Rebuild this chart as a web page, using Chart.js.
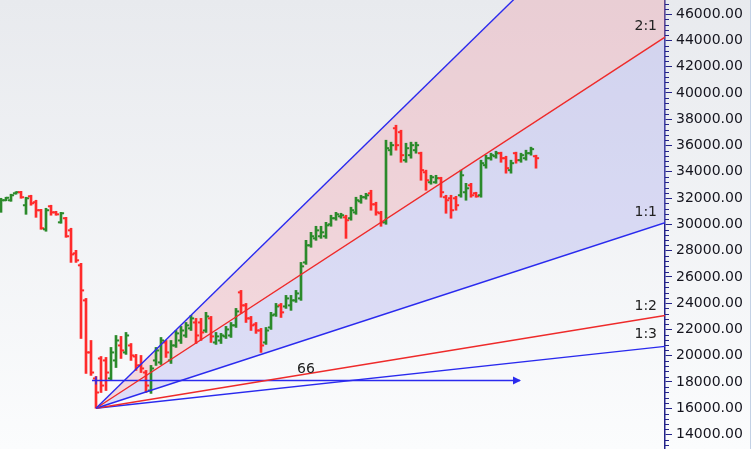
<!DOCTYPE html>
<html><head><meta charset="utf-8">
<script src="https://cdn.jsdelivr.net/npm/chart.js@4.4.1/dist/chart.umd.min.js"></script>
<style>html,body{margin:0;padding:0;background:#fff;overflow:hidden}canvas{display:block}</style>
</head><body>
<canvas id="c" width="754" height="449"></canvas>
<script>
// ---- data ----
const opens = [31070,31830,31830,32360,32440,31450,32130,31680,31070,29620,
  31370,30910,30150,30460,29540,27790,26880,24210,20250,18270,
  19790,19640,18270,19640,20780,20250,20780,19940,19260,18720,
  17350,19640,19490,21010,19640,20780,21160,21540,22080,22530,
  22530,21920,22840,21010,21160,21470,21540,22310,24820,23830,
  22840,22380,21920,21010,22150,23140,23830,23750,23830,24210,
  24360,27100,28400,28930,29090,29090,30000,30460,30610,30530,
  30460,30910,31750,32060,32360,31520,30840,30150,35640,37310,
  37010,34880,35260,35640,35410,33960,33200,33200,33510,32060,
  31980,31980,32210,32440,32970,32360,32210,34500,35030,35180,
  35410,35030,34120,35410,34880,35030,35410,35180];
const highs = [31980,32060,32290,32480,32510,32060,32210,31830,31140,31220,
  31450,30990,30910,30530,29700,28020,27030,24360,21160,18420,
  19940,19870,20630,21540,21470,21770,20930,20100,20020,18880,
  19260,20630,21390,21160,21160,21920,22230,22530,23070,22840,
  22840,23300,22990,21770,21700,22230,22530,23600,24970,23980,
  22990,22530,22080,22150,23300,23980,23980,24590,24590,24970,
  27100,28780,29390,29850,29850,30150,30690,30910,30840,30690,
  31300,32060,32210,32360,32590,31680,30990,36400,36250,37540,
  37160,36170,36250,36250,35490,34120,33730,33730,33580,32210,
  32210,32130,34120,33120,33120,32440,34880,35260,35410,35560,
  35490,35180,34880,35490,35410,35640,35870,35260];
const lows = [30910,31790,31750,32290,31980,30760,31450,30530,29620,29470,
  30690,30690,30080,29010,27100,27100,21310,18650,18500,16000,
  17200,17350,18110,19100,19790,20100,19640,18880,18720,17200,
  17130,19260,19330,19870,19410,20630,20930,21390,21920,20930,
  21160,21770,21010,20860,20930,21310,21390,22150,23220,22530,
  21920,21700,20250,20860,22000,22990,22910,23600,23450,24060,
  24210,26950,28250,28780,28930,28930,29850,30310,30460,28930,
  30310,30760,31600,31910,31070,30690,29850,30000,35260,35640,
  34720,34720,35030,35410,33350,32590,33050,33120,32060,30840,
  30460,31070,32060,31830,32060,32060,32060,34270,34880,35030,
  34720,33890,33890,34650,34720,34880,35260,34270];
const closes = [31830,32020,32210,32440,32060,31980,31600,31070,29700,31070,
  30910,30760,30840,29090,27710,27260,24970,20250,18720,17200,
  17730,18720,20250,21160,20400,21540,20020,19260,19030,17730,
  19030,20400,21160,20250,20780,21700,21920,22310,22840,21540,
  21770,22990,21470,21470,21540,22000,22310,23370,23830,22840,
  22310,21920,20780,21920,23070,23750,23300,24360,24210,24740,
  26800,28400,29090,29540,29390,29920,30460,30760,30690,30310,
  31070,31830,32060,32210,31520,30910,30150,35790,36020,36020,
  35260,35790,36020,36020,34120,33350,33580,33510,32440,31830,
  31070,31450,33730,32740,32210,32130,34650,35030,35260,35410,
  35030,34270,34650,34880,35260,35410,35720,35030];
const barIndex = opens.map((_, i) => i);
const yTicks = [14000,16000,18000,20000,22000,24000,26000,28000,30000,32000,34000,36000,38000,40000,42000,44000,46000];
const minorStep = 400;

// Gann fan: origin at the low bar, end values read at the right edge of the plot
const fanOriginBar = 19, fanOriginValue = 16000;
const fanNames = ['3:1', '2:1', '1:1', '1:2', '1:3'];
const fanEndValues = [58370, 44250, 30120, 23060, 20710];
const fanLabelValues = [null, 45080, 30880, 23750, 21620];
const arrowFromBar = 18.2, arrowToBar = 103.8, arrowValue = 18120;
const arrowLabel = '66', arrowLabelBar = 61, arrowLabelValue = 18950;

const X_MIN = -0.2, X_MAX = 132.8;
const GREEN = '#2b8a2b', RED = '#ff2b2b', BLUE = '#2a2aee', FANRED = '#ee2a2a';
const up = barIndex.map(i => closes[i] >= opens[i]);
const barColors = up.map(u => u ? GREEN : RED);

const fanColors = [BLUE, FANRED, BLUE, FANRED, BLUE];
const fanFills = [{target: '+1'}, {target: '+1'}, false, false, false];
const fanFillColors = ['rgba(236,150,162,0.33)', 'rgba(150,150,238,0.28)', 'transparent', 'transparent', 'transparent'];

const fanDatasets = fanNames.map((n, k) => ({
  type: 'line', label: n, order: 0,
  data: [{x: fanOriginBar, y: fanOriginValue}, {x: X_MAX, y: fanEndValues[k]}],
  borderColor: fanColors[k], borderWidth: 1.4, pointRadius: 0, tension: 0,
  fill: fanFills[k], backgroundColor: fanFillColors[k]
}));

const bgPlugin = {
  id: 'bg',
  beforeDraw(chart) {
    const {ctx, width, height} = chart;
    ctx.save();
    const g = ctx.createLinearGradient(0, 0, 0, height);
    g.addColorStop(0, '#e8eaee');
    g.addColorStop(1, '#fbfcfd');
    ctx.fillStyle = g;
    ctx.fillRect(0, 0, width, height);
    ctx.fillStyle = '#ffffff';
    ctx.fillRect(751, 0, width - 751, height);
    ctx.strokeStyle = '#c3d1e5';
    ctx.lineWidth = 1;
    ctx.beginPath(); ctx.moveTo(750.5, 0); ctx.lineTo(750.5, height); ctx.stroke();
    ctx.restore();
  }
};

const overlayPlugin = {
  id: 'overlay',
  afterDatasetsDraw(chart) {
    const {ctx, chartArea} = chart;
    const xs = chart.scales.x, ys = chart.scales.y;
    ctx.save();
    const ax = xs.getPixelForValue(arrowToBar), ay = ys.getPixelForValue(arrowValue);
    ctx.fillStyle = BLUE;
    ctx.beginPath(); ctx.moveTo(ax + 1, ay); ctx.lineTo(ax - 7, ay - 4); ctx.lineTo(ax - 7, ay + 4); ctx.closePath(); ctx.fill();
    const sx = xs.getPixelForValue(fanOriginBar);
    ctx.strokeStyle = BLUE; ctx.lineWidth = 1.5;
    ctx.beginPath(); ctx.moveTo(sx, ay - 4); ctx.lineTo(sx, ay + 4); ctx.stroke();
    ctx.fillStyle = '#222222';
    ctx.font = '14px "DejaVu Sans"';
    ctx.textBaseline = 'middle';
    ctx.textAlign = 'center';
    ctx.fillText(arrowLabel, xs.getPixelForValue(arrowLabelBar), ys.getPixelForValue(arrowLabelValue));
    ctx.textAlign = 'right';
    fanNames.forEach((n, k) => {
      if (fanLabelValues[k] == null) return;
      ctx.fillText(n, chartArea.right - 8, ys.getPixelForValue(fanLabelValues[k]));
    });
    ctx.restore();
  },
  afterDraw(chart) {
    const {ctx} = chart;
    const ys = chart.scales.y;
    ctx.save();
    ctx.strokeStyle = '#23238a';
    ctx.lineWidth = 1;
    for (let v = Math.ceil(ys.min / minorStep) * minorStep; v <= ys.max; v += minorStep) {
      if (v % 2000 === 0) continue;
      const y = Math.round(ys.getPixelForValue(v)) + 0.5;
      ctx.beginPath(); ctx.moveTo(ys.left, y); ctx.lineTo(ys.left + 4, y); ctx.stroke();
    }
    ctx.restore();
  }
};

new Chart(document.getElementById('c'), {
  data: {
    datasets: [
      ...fanDatasets,
      {
        type: 'line', label: 'range', order: 0,
        data: [{x: arrowFromBar, y: arrowValue}, {x: arrowToBar, y: arrowValue}],
        borderColor: BLUE, borderWidth: 1.5, pointRadius: 0, fill: false
      },
      {
        type: 'line', label: 'open', order: 1, showLine: false,
        data: barIndex.map(i => ({x: i - 0.3, y: opens[i]})),
        pointStyle: 'line', pointRadius: 1.6, pointBorderWidth: 2,
        pointBorderColor: barColors, pointBackgroundColor: barColors
      },
      {
        type: 'line', label: 'close', order: 1, showLine: false,
        data: barIndex.map(i => ({x: i + 0.3, y: closes[i]})),
        pointStyle: 'line', pointRadius: 1.6, pointBorderWidth: 2,
        pointBorderColor: barColors, pointBackgroundColor: barColors
      },
      {
        type: 'bar', label: 'hl', order: 2,
        data: barIndex.map(i => ({x: i, y: [lows[i], highs[i]]})),
        backgroundColor: barColors, borderWidth: 0, barThickness: 2
      }
    ]
  },
  options: {
    responsive: false, animation: false, devicePixelRatio: 1, events: [],
    layout: {padding: 0, autoPadding: false},
    plugins: {legend: {display: false}, tooltip: {enabled: false}, filler: {drawTime: 'beforeDatasetsDraw'}},
    scales: {
      x: {type: 'linear', min: X_MIN, max: X_MAX, display: false, offset: false, grid: {offset: false}},
      y: {
        type: 'linear', position: 'right', min: 12900, max: 47070,
        afterBuildTicks: s => { s.ticks = yTicks.map(v => ({value: v})); },
        afterFit: s => { s.width = 89; s.paddingTop = 0; s.paddingBottom = 0; },
        ticks: {callback: v => Number(v).toFixed(2), color: '#15151f', font: {family: 'DejaVu Sans', size: 14}, padding: 4, autoSkip: false},
        grid: {drawOnChartArea: false, drawTicks: true, tickLength: 7, color: '#23238a', lineWidth: 1},
        border: {display: true, color: '#23238a', width: 1.5}
      }
    }
  },
  plugins: [bgPlugin, overlayPlugin]
});
</script>
</body></html>
